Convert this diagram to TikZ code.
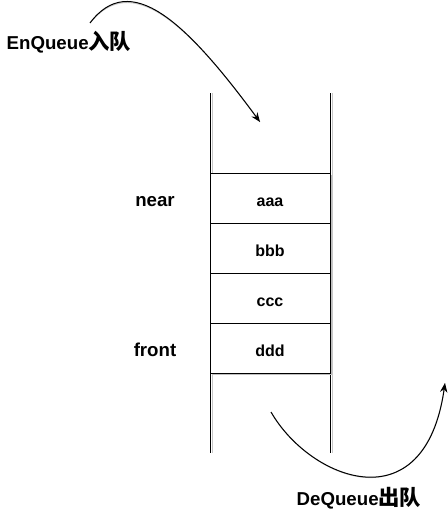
\documentclass[tikz,border=0pt]{standalone}
\usepackage{fontspec}
\setmainfont{Liberation Sans}
\newfontfamily\cjkfont{Noto Sans CJK SC}
\newcommand{\hanzi}[1]{{\cjkfont\fontsize{16pt}{18pt}\selectfont #1}}
\newcommand{\sink}[1]{\raisebox{-3.5pt}{#1}}
\usetikzlibrary{arrows.meta,shadows,positioning}

\begin{document}
\begin{tikzpicture}[x=0.75pt,y=-0.75pt,
	cell/.style={draw,line width=0.75pt,fill=white,minimum width=90pt,minimum height=37.5pt,inner sep=0pt,
		text height=1ex,text depth=0pt,
		font=\fontsize{12pt}{14pt}\selectfont\bfseries,
		drop shadow={shadow xshift=1.5pt,shadow yshift=-1.5pt,fill=black!25,opacity=1}},
	tag/.style={font=\fontsize{14pt}{17pt}\selectfont\bfseries},
	side/.style={tag,text height=1ex,text depth=0pt},
	wall/.style={line width=0.75pt},
	ghost/.style={line width=0.75pt,black!22},
	flow/.style={line width=0.75pt,-{Stealth[length=7pt,width=5.5pt]}}]
	\useasboundingbox (0,0) rectangle (447,517);
	% walls of the queue
	\coordinate (lt) at (210,93);
	\coordinate (lb) at (210,453);
	\coordinate (rt) at (330,93);
	\coordinate (rb) at (330,453);
	\draw[ghost] ([xshift=1.5pt]lt)--([xshift=1.5pt]lb);
	\draw[ghost] ([xshift=1.5pt]rt)--([xshift=1.5pt]rb);
	\draw[wall] (lt)--(lb);
	\draw[wall] (rt)--(rb);
	% cells
	\node[cell] (aaa) at (270,198) {\sink{aaa}};
	\node[cell] (bbb) at (270,248) {\sink{bbb}};
	\node[cell] (ccc) at (270,298) {\sink{ccc}};
	\node[cell] (ddd) at (270,348) {\sink{ddd}};
	\node[side] (near) at (155,198) {\sink{near}};
	\node[side] (front) at (155,348) {\sink{front}};
	% enqueue
	\node[tag,anchor=base west] (enq) at (2,50) {EnQueue\hanzi{入队}};
	\coordinate (ins) at (90,23);
	\coordinate (intop) at (260,122);
	\draw[ghost,shift={(1.2pt,-1.2pt)}] (ins) .. controls (130,-30) and (185,20) .. (intop);
	\draw[flow] (ins) .. controls (130,-30) and (185,20) .. (intop);
	% dequeue
	\node[tag,anchor=base west] (deq) at (292,505) {DeQueue\hanzi{出队}};
	\coordinate (outs) at (271,412);
	\coordinate (oute) at (445,383);
	\draw[ghost,shift={(1.2pt,-1.2pt)}] (outs) .. controls (310,480) and (425,525) .. (oute);
	\draw[flow] (outs) .. controls (310,480) and (425,525) .. (oute);
\end{tikzpicture}
\end{document}
